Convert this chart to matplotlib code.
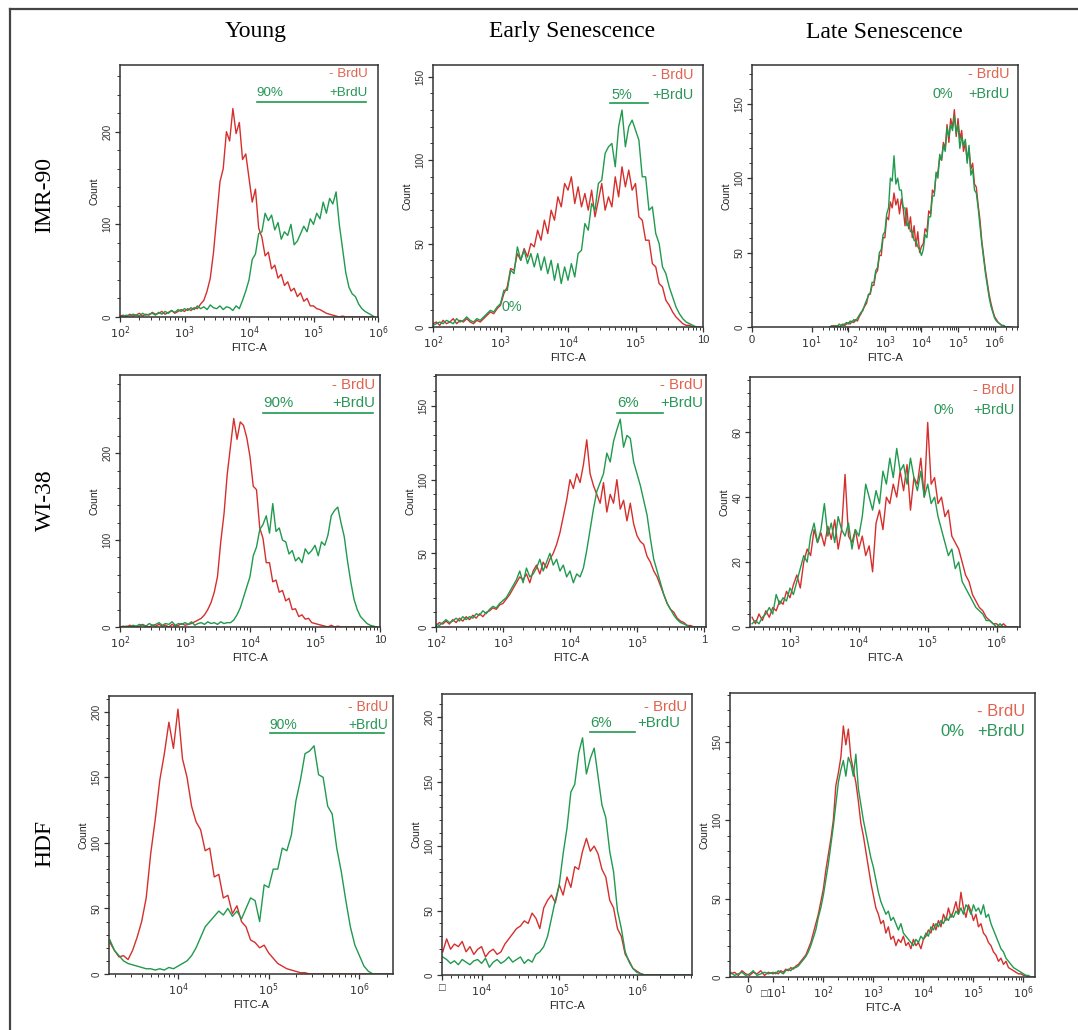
import matplotlib.pyplot as plt
import numpy as np
from matplotlib.lines import Line2D
from matplotlib.ticker import MultipleLocator, LogLocator, NullFormatter, SymmetricalLogLocator

plt.rcParams['font.family'] = ['Liberation Sans', 'DejaVu Sans']

W, H = 1078, 1030
RED = '#d52f2c'
GREEN = '#1f9a4e'
RED_TXT = '#e0644f'
GREEN_TXT = '#2a9658'

col_titles = ['Young', 'Early Senescence', 'Late Senescence']
row_titles = ['IMR-90', 'WI-38', 'HDF']

# counts per channel; channels are 0.05 decade of FITC-A apart,
# *_start is log10(FITC-A) of the first channel
STEP = 0.05

imr90_young_start = 2.0
imr90_young_neg = [1, 2, 0, 3, 1, 2, 4, 1, 3, 2, 5, 3, 4, 6, 3, 5, 7, 4, 6, 8,
                   6, 9, 7, 10, 9, 14, 18, 28, 42, 70, 108, 146, 160, 200, 190, 225, 198, 210, 170, 176,
                   150, 124, 138, 96, 86, 66, 70, 52, 56, 42, 46, 34, 38, 28, 31, 22, 26, 17, 20, 12,
                   12, 9, 8, 6, 4, 3, 2, 1, 0, 1, 0, 0, 0, 0, 0, 0, 0, 0, 0, 0]
imr90_young_pos = [0, 1, 2, 1, 3, 2, 1, 4, 2, 3, 4, 2, 5, 3, 6, 4, 7, 5, 8, 6,
                   9, 7, 10, 8, 12, 9, 11, 8, 13, 10, 9, 12, 8, 11, 10, 7, 12, 9, 18, 28,
                   40, 62, 68, 90, 92, 112, 104, 110, 94, 102, 84, 92, 88, 100, 78, 82, 90, 98, 92, 106,
                   100, 112, 106, 124, 112, 128, 122, 135, 100, 74, 48, 32, 25, 22, 14, 9, 6, 4, 2, 0]

imr90_early_start = 2.0
imr90_early_neg = [2, 3, 1, 4, 2, 3, 5, 2, 4, 3, 5, 3, 2, 4, 3, 5, 7, 9, 8, 11,
                   13, 20, 24, 35, 34, 44, 40, 47, 42, 50, 48, 58, 52, 64, 56, 70, 64, 78, 72, 86,
                   82, 90, 74, 84, 72, 80, 70, 82, 66, 76, 86, 70, 78, 72, 90, 78, 96, 84, 94, 82,
                   86, 66, 64, 52, 52, 38, 36, 26, 24, 16, 13, 9, 6, 4, 2, 1, 1, 0, 0, 0]
imr90_early_pos = [1, 2, 3, 2, 4, 3, 2, 5, 3, 4, 6, 4, 3, 5, 4, 6, 8, 10, 9, 12,
                   14, 22, 22, 34, 32, 48, 40, 46, 38, 44, 36, 44, 34, 42, 32, 40, 28, 38, 26, 36,
                   28, 38, 30, 44, 46, 62, 58, 74, 70, 86, 88, 104, 108, 110, 96, 120, 130, 108, 120, 124,
                   118, 112, 90, 90, 70, 72, 56, 50, 36, 32, 24, 18, 12, 8, 5, 3, 2, 1, 0, 0]

imr90_late_start = 1.5
imr90_late_neg = [0, 0, 1, 0, 1, 0, 1, 2, 1, 2, 3, 2, 4, 3, 5, 4, 7, 9, 12, 14,
                  16, 22, 22, 28, 28, 36, 38, 48, 48, 60, 60, 74, 72, 84, 80, 90, 82, 86, 76, 86,
                  80, 68, 80, 66, 74, 60, 68, 54, 64, 50, 54, 56, 66, 64, 78, 76, 92, 90, 102, 104,
                  114, 112, 124, 120, 136, 124, 140, 134, 146, 128, 140, 126, 132, 118, 124, 112, 120, 106, 110, 96,
                  94, 82, 72, 58, 48, 38, 30, 22, 16, 11, 7, 5, 3, 2, 1, 1, 0, 0, 0, 0]
imr90_late_pos = [0, 1, 0, 1, 0, 2, 1, 1, 2, 3, 2, 4, 3, 5, 4, 6, 8, 10, 11, 15,
                  18, 21, 23, 30, 30, 38, 40, 50, 52, 62, 64, 76, 80, 100, 98, 115, 96, 100, 92, 92,
                  80, 80, 68, 70, 64, 64, 58, 58, 54, 52, 48, 52, 62, 60, 74, 74, 88, 88, 104, 100,
                  116, 112, 122, 118, 134, 128, 136, 132, 142, 130, 136, 120, 128, 122, 126, 110, 122, 102, 106, 92,
                  90, 80, 68, 56, 46, 36, 28, 20, 14, 10, 6, 4, 3, 2, 1, 1, 0, 0, 0, 0]

wi38_young_start = 2.0
wi38_young_neg = [0, 1, 0, 2, 1, 0, 1, 3, 1, 0, 2, 1, 3, 1, 2, 0, 3, 1, 2, 4,
                  2, 3, 4, 6, 8, 10, 14, 20, 28, 40, 58, 98, 130, 176, 208, 240, 216, 236, 232, 218,
                  196, 162, 158, 114, 102, 74, 74, 52, 54, 40, 42, 30, 33, 20, 21, 12, 14, 9, 10, 5,
                  4, 3, 2, 1, 0, 2, 0, 1, 0, 0, 0, 0, 0, 0, 0, 0, 0, 0, 0, 0]
wi38_young_pos = [0, 0, 1, 0, 2, 1, 3, 2, 1, 4, 2, 3, 5, 2, 4, 3, 6, 2, 4, 3,
                  5, 3, 6, 2, 4, 5, 3, 6, 4, 5, 3, 6, 4, 5, 5, 8, 14, 22, 34, 46,
                  58, 82, 92, 112, 118, 128, 108, 142, 110, 114, 100, 98, 84, 88, 76, 80, 74, 90, 84, 88,
                  94, 82, 98, 94, 106, 128, 134, 138, 120, 104, 76, 52, 32, 20, 12, 8, 4, 2, 1, 0]

wi38_early_start = 2.0
wi38_early_neg = [1, 3, 2, 4, 2, 5, 3, 6, 4, 7, 5, 8, 6, 9, 7, 10, 11, 13, 12, 15,
                  16, 19, 22, 26, 30, 34, 32, 36, 30, 38, 42, 36, 44, 40, 46, 50, 56, 64, 75, 86,
                  100, 94, 104, 98, 110, 127, 104, 96, 90, 84, 98, 78, 90, 84, 100, 80, 86, 72, 84, 70,
                  62, 58, 56, 48, 44, 38, 34, 28, 22, 16, 12, 10, 6, 4, 3, 1, 1, 0, 0, 0, 0]
wi38_early_pos = [2, 1, 3, 5, 3, 4, 6, 4, 7, 5, 7, 6, 9, 8, 11, 9, 12, 14, 13, 16,
                  18, 20, 24, 28, 32, 38, 30, 40, 34, 36, 40, 46, 38, 44, 50, 42, 46, 38, 42, 34,
                  38, 30, 36, 34, 40, 52, 66, 80, 92, 98, 104, 118, 112, 126, 134, 141, 122, 130, 128, 112,
                  104, 96, 86, 76, 60, 46, 38, 30, 22, 16, 12, 8, 5, 3, 2, 1, 0, 0, 0, 0, 0]

wi38_late_start = 2.45
wi38_late_neg = [3, 1, 4, 2, 5, 3, 6, 5, 8, 7, 11, 9, 13, 16, 12, 20, 24, 22, 30, 26,
                 29, 25, 31, 27, 33, 24, 30, 47, 28, 26, 30, 24, 28, 22, 25, 17, 32, 36, 30, 40,
                 38, 44, 40, 48, 42, 50, 36, 46, 44, 52, 40, 63, 44, 46, 38, 40, 34, 36, 28, 26,
                 24, 20, 16, 14, 10, 8, 6, 5, 3, 2, 1, 1, 0, 1, 0, 0, 0, 0]
wi38_late_pos = [1, 2, 1, 3, 4, 6, 4, 10, 7, 9, 8, 12, 10, 14, 18, 22, 20, 28, 32, 26,
                 30, 38, 28, 32, 26, 34, 30, 28, 32, 24, 30, 28, 34, 44, 40, 36, 42, 38, 48, 44,
                 52, 46, 55, 48, 50, 44, 52, 46, 42, 48, 40, 44, 38, 40, 34, 30, 26, 22, 24, 18,
                 20, 14, 12, 10, 8, 6, 5, 4, 2, 2, 1, 0, 1, 0, 0, 0, 0, 0]

hdf_young_start = 3.25
hdf_young_neg = [24, 18, 13, 14, 11, 18, 28, 40, 58, 92, 118, 148, 168, 192, 172, 202, 164, 150, 128, 116,
                 110, 94, 96, 74, 76, 58, 60, 46, 52, 40, 36, 26, 24, 20, 22, 16, 12, 8, 6, 4,
                 3, 2, 1, 1, 0, 0, 0, 0, 0, 0, 0, 0, 0, 0, 0, 0, 0, 0, 0, 0, 0, 0, 0]
hdf_young_pos = [26, 18, 14, 10, 8, 7, 6, 5, 4, 4, 3, 4, 3, 5, 4, 6, 8, 10, 14, 20,
                 28, 36, 40, 44, 48, 45, 50, 44, 48, 42, 50, 58, 56, 40, 68, 66, 80, 80, 96, 94,
                 106, 132, 148, 168, 170, 174, 152, 150, 128, 122, 96, 78, 56, 36, 22, 14, 6, 2, 0, 0, 0, 0, 0]

hdf_early_start = 3.5
hdf_early_neg = [18, 28, 20, 24, 22, 26, 18, 22, 16, 20, 22, 14, 18, 20, 16, 18, 24, 28, 32, 36,
                 38, 42, 40, 48, 44, 36, 52, 58, 62, 56, 70, 62, 76, 68, 84, 82, 96, 106, 96, 100,
                 94, 82, 76, 58, 52, 36, 30, 16, 11, 5, 3, 1, 0, 0, 0, 0, 0, 0, 0, 0, 0, 0, 0, 0, 0]
hdf_early_pos = [14, 12, 9, 11, 8, 12, 10, 8, 11, 12, 9, 13, 6, 10, 12, 9, 11, 14, 10, 12,
                 14, 9, 12, 10, 16, 18, 22, 30, 44, 58, 70, 94, 114, 142, 148, 172, 184, 156, 168, 176,
                 154, 132, 122, 96, 80, 50, 36, 18, 10, 5, 2, 1, 0, 0, 0, 0, 0, 0, 0, 0, 0, 0, 0, 0, 0]

# HDF late senescence also has events in the linear (around zero) part of the axis
hdf_late_lin_x = [-7, -5.5, -4, -2.5, -1, 0.5, 2, 3.5, 5, 6.5, 8]
hdf_late_lin_neg = [2, 3, 1, 4, 2, 1, 3, 2, 4, 1, 3]
hdf_late_lin_pos = [3, 1, 2, 3, 1, 2, 4, 1, 2, 3, 2]
hdf_late_start = 1.0
hdf_late_neg = [2, 3, 2, 4, 3, 5, 4, 6, 5, 7, 8, 10, 12, 14, 18, 22, 28, 34, 40, 48,
                56, 68, 78, 88, 100, 122, 130, 140, 160, 148, 158, 140, 132, 124, 112, 98, 90, 80, 70, 60,
                52, 44, 40, 34, 36, 28, 32, 24, 26, 20, 24, 22, 26, 20, 22, 18, 24, 20, 22, 18,
                24, 26, 30, 28, 34, 30, 36, 32, 40, 36, 44, 38, 42, 48, 40, 54, 44, 38, 46, 42,
                36, 40, 32, 34, 28, 26, 22, 20, 16, 14, 10, 12, 8, 10, 6, 5, 4, 3, 2, 2, 1, 1, 0, 0, 0]
hdf_late_pos = [3, 2, 4, 3, 2, 4, 5, 4, 6, 6, 7, 9, 11, 13, 16, 20, 25, 30, 38, 44,
                52, 62, 72, 84, 96, 110, 124, 132, 138, 128, 140, 136, 128, 142, 120, 110, 100, 92, 84, 76,
                70, 62, 54, 48, 44, 40, 42, 36, 38, 34, 30, 34, 28, 26, 24, 22, 20, 24, 22, 26,
                24, 28, 26, 32, 30, 34, 32, 36, 34, 38, 36, 40, 38, 42, 40, 44, 40, 46, 44, 40,
                46, 42, 44, 40, 46, 38, 40, 34, 30, 26, 22, 18, 16, 12, 10, 8, 6, 5, 4, 3, 2, 1, 1, 0, 0]

pct_labels = ['90%', '5%', '0%', '90%', '6%', '0%', '90%', '6%', '0%']

dec = ['$10^1$', '$10^2$', '$10^3$', '$10^4$', '$10^5$', '$10^6$']

panels = [
    dict(box=(120, 65, 378, 317), start=imr90_young_start, neg=imr90_young_neg, pos=imr90_young_pos,
         ytop=272, ymaj=100, ymin=20, scale='log', xlim=(1e2, 1e6),
         xt=[1e2, 1e3, 1e4, 1e5, 1e6], xl=dec[1:],
         lab=(0.961, 0.964, 0.961, 0.89, 0.53), gate=(0.53, 0.955, 0.854), fs=9.6),
    dict(box=(433, 65, 703, 327), start=imr90_early_start, neg=imr90_early_neg, pos=imr90_early_pos,
         ytop=157, ymaj=50, ymin=10, scale='log', xlim=(1e2, 1e6),
         xt=[1e2, 1e3, 1e4, 1e5, 1e6], xl=dec[1:5] + ['10'],
         lab=(0.965, 0.962, 0.965, 0.885, 0.66), gate=(0.657, 0.796, 0.856), fs=10.4),
    dict(box=(752, 65, 1018, 327), start=imr90_late_start, neg=imr90_late_neg, pos=imr90_late_pos,
         ytop=176, ymaj=50, ymin=10, scale=('symlog', 1.47), xlim=(0, 10 ** 6.64),
         xt=[0, 1e1, 1e2, 1e3, 1e4, 1e5, 1e6], xl=['0'] + dec,
         lab=(0.969, 0.966, 0.969, 0.89, 0.68), gate=None, fs=10.4),
    dict(box=(120, 375, 380, 627), start=wi38_young_start, neg=wi38_young_neg, pos=wi38_young_pos,
         ytop=290, ymaj=100, ymin=20, scale='log', xlim=(1e2, 1e6),
         xt=[1e2, 1e3, 1e4, 1e5, 1e6], xl=dec[1:5] + ['10'],
         lab=(0.98, 0.96, 0.98, 0.887, 0.55), gate=(0.55, 0.974, 0.85), fs=10.8),
    dict(box=(436, 375, 706, 627), start=wi38_early_start, neg=wi38_early_neg, pos=wi38_early_pos,
         ytop=171, ymaj=50, ymin=10, scale='log', xlim=(1e2, 10 ** 6.03),
         xt=[1e2, 1e3, 1e4, 1e5, 1e6], xl=dec[1:5] + ['1'],
         lab=(0.99, 0.96, 0.99, 0.887, 0.67), gate=(0.67, 0.842, 0.85), fs=10.8),
    dict(box=(750, 377, 1020, 627), start=wi38_late_start, neg=wi38_late_neg, pos=wi38_late_pos,
         ytop=77, ymaj=20, ymin=4, scale='log', xlim=(10 ** 2.42, 10 ** 6.34),
         xt=[1e3, 1e4, 1e5, 1e6], xl=dec[2:],
         lab=(0.98, 0.947, 0.98, 0.867, 0.68), gate=None, fs=10.4),
    dict(box=(109, 696, 393, 974), start=hdf_young_start, neg=hdf_young_neg, pos=hdf_young_pos,
         ytop=212, ymaj=50, ymin=10, scale='log', xlim=(10 ** 3.24, 10 ** 6.37),
         xt=[1e4, 1e5, 1e6], xl=dec[3:],
         lab=(0.982, 0.962, 0.982, 0.896, 0.566), gate=(0.566, 0.97, 0.866), fs=10),
    dict(box=(442, 694, 692, 975), start=hdf_early_start, neg=hdf_early_neg, pos=hdf_early_pos,
         ytop=218, ymaj=50, ymin=10, scale='log', xlim=(10 ** 3.49, 10 ** 6.71),
         xt=[10 ** 3.49, 1e4, 1e5, 1e6], xl=['\u25a1'] + dec[3:],
         lab=(0.98, 0.955, 0.953, 0.896, 0.593), gate=(0.593, 0.773, 0.866), fs=10.8),
    dict(box=(730, 693, 1035, 977), start=hdf_late_start, neg=hdf_late_neg, pos=hdf_late_pos,
         ytop=181, ymaj=50, ymin=10, scale=('symlog', 0.45), xlim=(-7.3, 10 ** 6.23),
         xt=[0, 1e1, 1e2, 1e3, 1e4, 1e5, 1e6], xl=['0', '\u25a1$10^1$'] + dec[1:],
         lab=(0.967, 0.935, 0.967, 0.865, 0.689), gate=None, fs=12,
         lin=(hdf_late_lin_x, hdf_late_lin_neg, hdf_late_lin_pos)),
]

fig = plt.figure(figsize=(W / 100, H / 100), dpi=100)

for i, p in enumerate(panels):
    l, t, r, b = p['box']
    ax = fig.add_axes([l / W, 1 - b / H, (r - l) / W, (b - t) / H])
    xneg = 10 ** (p['start'] + STEP * np.arange(len(p['neg'])))
    xpos = 10 ** (p['start'] + STEP * np.arange(len(p['pos'])))
    yneg, ypos = list(p['neg']), list(p['pos'])
    if 'lin' in p:
        lx, ln, lp = p['lin']
        xneg = np.concatenate([lx, xneg])
        xpos = np.concatenate([lx, xpos])
        yneg, ypos = ln + yneg, lp + ypos
    ax.plot(xneg, yneg, color=RED, lw=1.0)
    ax.plot(xpos, ypos, color=GREEN, lw=1.0)

    if p['scale'] == 'log':
        ax.set_xscale('log')
        ax.xaxis.set_minor_locator(LogLocator(base=10, subs=np.arange(2, 10), numticks=20))
    else:
        ax.set_xscale('symlog', linthresh=10, linscale=p['scale'][1])
        ax.xaxis.set_minor_locator(SymmetricalLogLocator(linthresh=10, base=10, subs=np.arange(2, 10)))
    ax.set_xlim(*p['xlim'])
    ax.set_xticks(p['xt'], p['xl'])
    ax.xaxis.set_minor_formatter(NullFormatter())

    ax.set_ylim(0, p['ytop'])
    ax.yaxis.set_major_locator(MultipleLocator(p['ymaj']))
    ax.yaxis.set_minor_locator(MultipleLocator(p['ymin']))

    ax.tick_params(which='major', direction='out', length=3.5, width=0.9, colors='#333333',
                   labelsize=8, pad=2)
    ax.tick_params(which='minor', direction='out', length=2, width=0.7, colors='#333333')
    ax.tick_params(axis='y', labelrotation=90, labelsize=7)
    for lbl in ax.get_yticklabels():
        lbl.set_va('center')
    for sp in ax.spines.values():
        sp.set_color('#333333')
        sp.set_linewidth(1.1)

    ax.set_xlabel('FITC-A', fontsize=8, labelpad=1, color='#222222')
    ax.set_ylabel('Count', fontsize=7.5, labelpad=2, color='#222222')

    mx, my, px, py, pctx = p['lab']
    ax.text(mx, my, '- BrdU', transform=ax.transAxes, ha='right', va='center',
            color=RED_TXT, fontsize=p['fs'])
    ax.text(px, py, '+BrdU', transform=ax.transAxes, ha='right', va='center',
            color=GREEN_TXT, fontsize=p['fs'])
    ax.text(pctx, py, pct_labels[i], transform=ax.transAxes, ha='left', va='center',
            color=GREEN_TXT, fontsize=p['fs'])
    if p['gate'] is not None:
        g0, g1, gy = p['gate']
        ax.plot([g0, g1], [gy, gy], transform=ax.transAxes, color=GREEN, lw=1.2, clip_on=False)
    if i == 1:
        ax.text(0.255, 0.075, '0%', transform=ax.transAxes, ha='left', va='center',
                color=GREEN_TXT, fontsize=p['fs'])

# column and row headings
serif = ['Liberation Serif', 'DejaVu Serif']
for x, s in zip([256, 572, 884], col_titles):
    fig.text(x / W, 1 - 32 / H, s, ha='center', va='center', fontsize=17, family=serif)
for y, s in zip([195, 500, 843], row_titles):
    fig.text(45 / W, 1 - y / H, s, ha='center', va='center', rotation=90, fontsize=17, family=serif)

# frame around the figure (left and top edges)
fig.add_artist(Line2D([10 / W, 10 / W], [0, 1 - 9 / H], color='#444444', lw=1.6))
fig.add_artist(Line2D([10 / W, 1], [1 - 9 / H, 1 - 9 / H], color='#444444', lw=1.6))

fig.savefig('out.png', dpi=100, facecolor='white')
